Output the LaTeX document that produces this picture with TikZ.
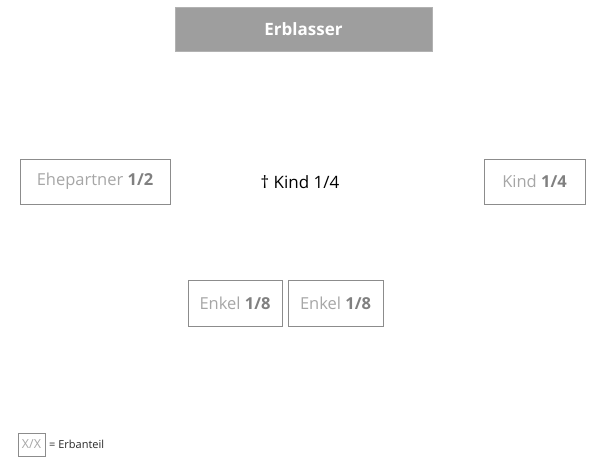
\documentclass[tikz,border=0pt]{standalone}
\usepackage{fontspec}
\setmainfont{Open Sans}
\begin{document}
\begin{tikzpicture}[x=1pt,y=-1pt,
  share/.style={draw=black!45, line width=0.8pt, rectangle, inner sep=0pt, text=black!35, font=\fontsize{16.5}{18}\selectfont},
  head/.style={fill=black!38, draw=black!30, inner sep=0pt, text=white, font=\fontsize{17}{19}\selectfont\bfseries}]
\useasboundingbox (0,0) rectangle (591,464);
\node[head, minimum width=257pt, minimum height=44pt] (erb) at (303.5,29) {Erblasser};
\node[share, minimum width=150pt, minimum height=45pt] (ehe) at (95,181.5) {Ehepartner \textcolor{black!50}{\textbf{1/2}}};
\node[font=\fontsize{17}{19}\selectfont, text=black] (tkind) at (300,182) {† Kind 1/4};
\node[share, minimum width=101pt, minimum height=45pt] (kind) at (534.5,181.5) {Kind \textcolor{black!50}{\textbf{1/4}}};
\node[share, minimum width=94pt, minimum height=46pt] (enk1) at (235,303) {Enkel \textcolor{black!50}{\textbf{1/8}}};
\node[share, minimum width=95pt, minimum height=46pt] (enk2) at (335.5,303) {Enkel \textcolor{black!50}{\textbf{1/8}}};
\node[share, minimum width=27pt, minimum height=23pt, font=\fontsize{12.5}{14}\selectfont] (leg) at (31.5,444.5) {X/X};
\node[anchor=west, font=\fontsize{11}{13}\selectfont, inner sep=0pt, text=black!85] (legt) at (49,444.5) {= Erbanteil};
\end{tikzpicture}
\end{document}
